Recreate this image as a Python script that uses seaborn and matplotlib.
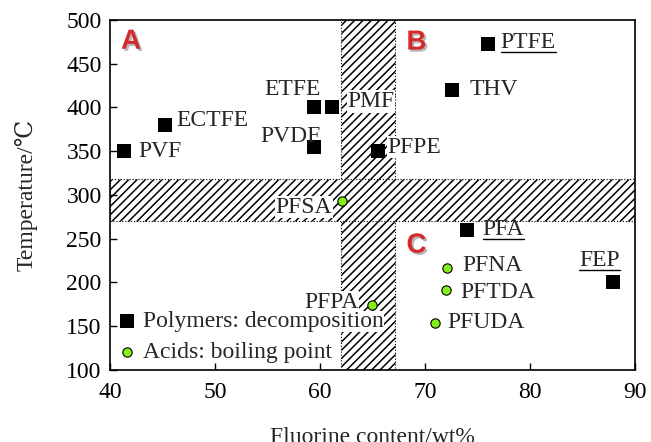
import matplotlib
matplotlib.use("Agg")
import matplotlib.pyplot as plt
import matplotlib.patheffects as pe
from matplotlib.lines import Line2D
import seaborn as sns
import pandas as pd

# polymers: decomposition temperature
poly_names = ["PVF", "ECTFE", "ETFE", "PMF", "PVDF", "PFPE", "THV", "PTFE", "PFA", "FEP"]
poly_fluorine = [41.3, 45.2, 59.4, 61.2, 59.4, 65.5, 72.6, 76.0, 74.0, 87.9]
poly_temp = [350, 380, 400, 400, 355, 350, 420, 472, 260, 200]

# acids: boiling point
acid_names = ["PFSA", "PFPA", "PFNA", "PFTDA", "PFUDA"]
acid_fluorine = [62.1, 65.0, 72.1, 72.0, 71.0]
acid_temp = [293, 174, 217, 191, 154]

# hatched bands
band_x = (62.0, 67.2)
band_y = (270, 318)

x_ticks = [40, 50, 60, 70, 80, 90]
y_ticks = [100, 150, 200, 250, 300, 350, 400, 450, 500]

# label placement: (dx px, dy px, ha, white box, underline)
label_style = {
    "PVF": (15, 0, "left", False, False),
    "ECTFE": (12, 4, "left", False, False),
    "ETFE": (7, 18, "right", False, False),
    "PMF": (15, 6, "left", True, False),
    "PVDF": (7, 10, "right", False, False),
    "PFPE": (10, 4, "left", True, False),
    "THV": (17, 0, "left", False, False),
    "PTFE": (13, 2, "left", False, True),
    "PFA": (16, 0, "left", False, True),
    "FEP": (7, 22, "right", False, True),
    "PFSA": (-10, -6, "right", True, False),
    "PFPA": (-14, 3, "right", True, False),
    "PFNA": (15, 2, "left", False, False),
    "PFTDA": (15, -2, "left", False, False),
    "PFUDA": (12, 0, "left", False, False),
}

region_letters = ["A", "B", "C"]
region_pos = [(42.0, 475), (69.2, 474), (69.2, 242)]

sns.set_style("ticks")
plt.rcParams["font.family"] = ["Liberation Serif", "DejaVu Serif"]
plt.rcParams["hatch.linewidth"] = 1.1

fig = plt.figure(figsize=(6.51, 4.42), dpi=100)
ax = fig.add_axes([0.169, 0.163, 0.806, 0.792])

ax.axvspan(*band_x, facecolor="white", edgecolor="black", hatch="////",
           linestyle=":", linewidth=0.8, zorder=0.5)
ax.axhspan(*band_y, facecolor="white", edgecolor="black", hatch="////",
           linestyle=":", linewidth=0.8, zorder=0.5)

poly_df = pd.DataFrame({"F": poly_fluorine, "T": poly_temp, "name": poly_names})
acid_df = pd.DataFrame({"F": acid_fluorine, "T": acid_temp, "name": acid_names})

sns.scatterplot(data=poly_df, x="F", y="T", marker="s", s=95, color="black",
                edgecolor="black", linewidth=0, label="Polymers: decomposition",
                ax=ax, zorder=3)
sns.scatterplot(data=acid_df, x="F", y="T", marker="o", s=45, color="#84f01a",
                edgecolor="black", linewidth=0.8, label="Acids: boiling point",
                ax=ax, zorder=3)

texts = []
for df in (poly_df, acid_df):
    for _, row in df.iterrows():
        dx, dy, ha, box, under = label_style[row["name"]]
        bbox = dict(facecolor="white", edgecolor="none", pad=0.5) if box else None
        t = ax.annotate(row["name"], (row["F"], row["T"]), xytext=(dx * 0.72, dy * 0.72),
                        textcoords="offset points", ha=ha, va="center",
                        fontsize=17, bbox=bbox, zorder=4)
        if under:
            texts.append(t)

for letter, (lx, ly) in zip(region_letters, region_pos):
    ax.text(lx, ly, letter, fontsize=20, fontweight="bold", color="#d42a2e",
            family="Liberation Sans", ha="center", va="center", zorder=5,
            path_effects=[pe.withSimplePatchShadow(offset=(1.5, -1.5),
                                                   shadow_rgbFace="#999999", alpha=0.7)])

ax.set_xlim(40, 90)
ax.set_ylim(100, 500)
ax.set_xticks(x_ticks)
ax.set_yticks(y_ticks)
ax.tick_params(direction="in", length=5, width=1, labelsize=17, colors="black")
ax.tick_params(axis="x", pad=9)
ax.tick_params(axis="y", pad=6)
for sp in ax.spines.values():
    sp.set_visible(True)
    sp.set_linewidth(1.2)
    sp.set_color("black")

ax.set_xlabel("Fluorine content/wt%", fontsize=17, labelpad=17)
ax.set_ylabel("Temperature/℃", fontsize=17, labelpad=21)

leg = ax.legend(loc="lower left", frameon=False, fontsize=17, handletextpad=0.3,
                labelspacing=0.4, borderaxespad=0.05, borderpad=0.25,
                handlelength=0.8)
for lt in leg.get_texts():
    lt.set_bbox(dict(facecolor="white", edgecolor="none", pad=0))

# underline selected labels
fig.canvas.draw()
renderer = fig.canvas.get_renderer()
W, H = fig.bbox.width, fig.bbox.height
for t in texts:
    bb = t.get_window_extent(renderer)
    y = bb.y0 + 1
    fig.add_artist(Line2D([bb.x0 / W, bb.x1 / W], [y / H, y / H],
                          transform=fig.transFigure, color="black", lw=1.0))

fig.savefig("out.png", dpi=100)
